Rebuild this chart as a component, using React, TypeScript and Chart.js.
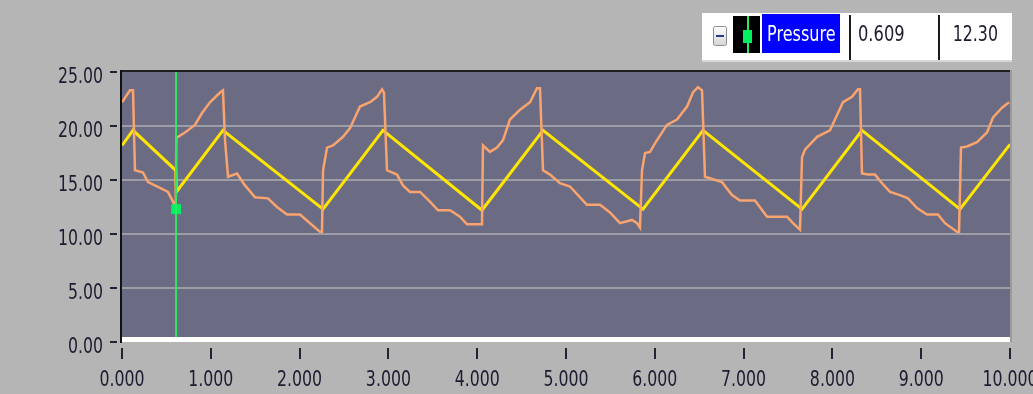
import React, { useEffect, useRef } from 'react';
import { Chart, registerables } from 'chart.js';

Chart.register(...registerables);

// ---- data ----
const ORANGE_TIME = [
  0.000, 0.090, 0.124, 0.146, 0.236, 0.293, 0.394, 0.518, 0.574, 0.605,
  0.612, 0.709, 0.822, 0.901, 0.991, 1.104, 1.137, 1.160, 1.194, 1.295,
  1.385, 1.498, 1.644, 1.745, 1.858, 2.005, 2.117, 2.230, 2.252, 2.264,
  2.309, 2.376, 2.489, 2.568, 2.680, 2.793, 2.872, 2.928, 2.950, 2.984,
  3.097, 3.164, 3.243, 3.356, 3.468, 3.559, 3.694, 3.806, 3.885, 4.054,
  4.065, 4.144, 4.223, 4.291, 4.369, 4.482, 4.595, 4.673, 4.707, 4.741,
  4.820, 4.932, 5.045, 5.158, 5.236, 5.383, 5.495, 5.608, 5.743, 5.800,
  5.833, 5.856, 5.890, 5.946, 6.002, 6.137, 6.250, 6.363, 6.430, 6.486,
  6.532, 6.565, 6.757, 6.869, 6.959, 7.128, 7.264, 7.489, 7.556, 7.635,
  7.658, 7.691, 7.827, 7.973, 8.029, 8.119, 8.221, 8.288, 8.311, 8.333,
  8.401, 8.480, 8.559, 8.649, 8.761, 8.851, 8.953, 9.065, 9.189, 9.268,
  9.403, 9.426, 9.448, 9.516, 9.628, 9.741, 9.809, 9.910, 9.990,
];
const ORANGE_PRESSURE = [
  22.2, 23.3, 23.3, 15.9, 15.7, 14.8, 14.4, 13.9, 13.0, 12.5,
  18.9, 19.4, 20.1, 21.2, 22.2, 23.1, 23.3, 18.7, 15.3, 15.6,
  14.5, 13.4, 13.3, 12.5, 11.8, 11.8, 11.0, 10.2, 10.2, 15.9,
  18.0, 18.2, 19.0, 19.8, 21.8, 22.2, 22.7, 23.4, 23.1, 15.9,
  15.5, 14.5, 13.9, 13.9, 13.0, 12.2, 12.2, 11.6, 10.9, 10.9,
  18.2, 17.6, 18.0, 18.7, 20.6, 21.5, 22.2, 23.5, 23.5, 15.9,
  15.5, 14.7, 14.4, 13.4, 12.7, 12.7, 12.0, 11.0, 11.3, 11.0,
  10.6, 15.9, 17.5, 17.6, 18.4, 20.1, 20.6, 21.8, 23.1, 23.6,
  23.3, 15.3, 14.8, 13.6, 13.1, 13.1, 11.6, 11.6, 11.0, 10.4,
  17.1, 17.8, 19.0, 19.6, 20.6, 22.2, 22.7, 23.4, 23.4, 15.6,
  15.5, 15.5, 14.7, 13.9, 13.6, 13.3, 12.4, 11.8, 11.8, 11.0,
  10.2, 10.2, 18.0, 18.1, 18.5, 19.4, 20.8, 21.7, 22.2,
];
const YELLOW_TIME = [0.000, 0.124, 0.605, 0.612, 1.137, 2.264, 2.939, 4.054, 4.741, 5.867, 6.543, 7.658, 8.333, 9.437, 10.000];
const YELLOW_PRESSURE = [18.2, 19.6, 15.9, 13.9, 19.6, 12.3, 19.6, 12.2, 19.6, 12.3, 19.6, 12.3, 19.6, 12.3, 18.3];
const X_TICK_LABELS = ['0.000', '1.000', '2.000', '3.000', '4.000', '5.000', '6.000', '7.000', '8.000', '9.000', '10.000'];
const Y_TICK_LABELS = ['0.00', '5.00', '10.00', '15.00', '20.00', '25.00'];
const CURSOR_TIME = 0.609;
const CURSOR_VALUE = 12.3;
const LEGEND_NAME = 'Pressure';
const LEGEND_X_TEXT = '0.609';
const LEGEND_Y_TEXT = '12.30';

const FONT = '"DejaVu Sans", Verdana, sans-serif';

function condensedText(
  ctx: CanvasRenderingContext2D,
  text: string,
  x: number,
  y: number,
  align: 'left' | 'right' | 'center',
  size: number,
  sx: number,
  color: string
) {
  ctx.save();
  ctx.font = `${size}px ${FONT}`;
  ctx.fillStyle = color;
  ctx.textBaseline = 'alphabetic';
  ctx.textAlign = 'left';
  const w = ctx.measureText(text).width * sx;
  let left = x;
  if (align === 'right') left = x - w;
  else if (align === 'center') left = x - w / 2;
  ctx.translate(left, y);
  ctx.scale(sx, 1);
  ctx.fillText(text, 0, 0);
  ctx.restore();
}

const framePlugin = {
  id: 'frame',
  beforeDraw(chart: any) {
    const { ctx, chartArea: a, width, height } = chart;
    ctx.save();
    ctx.fillStyle = '#b5b5b5';
    ctx.fillRect(0, 0, width, height);
    ctx.fillStyle = '#6b6b83';
    ctx.fillRect(a.left, a.top, a.right - a.left, a.bottom - a.top);
    ctx.restore();
  },
  afterDraw(chart: any) {
    const { ctx, chartArea: a } = chart;
    const xs = chart.scales.x;
    const ys = chart.scales.y;
    const textColor = '#1c1c30';
    ctx.save();
    // white base band
    const y0 = ys.getPixelForValue(0);
    ctx.fillStyle = '#ffffff';
    ctx.fillRect(a.left, y0 - 5, a.right - a.left, 5);
    // frame
    ctx.fillStyle = '#1e1e22';
    ctx.fillRect(a.left - 2, a.top - 2, a.right - a.left + 2, 2);
    ctx.fillStyle = '#111111';
    ctx.fillRect(a.left - 2, a.top - 2, 2, a.bottom - a.top + 3);
    ctx.fillStyle = '#9a9a9a';
    ctx.fillRect(a.right, a.top - 2, 2, a.bottom - a.top + 2);

    // y ticks
    ys.ticks.forEach((t: any, i: number) => {
      const py = ys.getPixelForValue(t.value);
      ctx.fillStyle = '#222230';
      ctx.fillRect(110, Math.round(py) - 1, 7, 2);
      condensedText(ctx, Y_TICK_LABELS[i] ?? String(t.value), 103, py + 11, 'right', 21, 0.75, textColor);
    });
    // x ticks
    xs.ticks.forEach((t: any, i: number) => {
      const px = xs.getPixelForValue(t.value);
      ctx.fillStyle = '#222230';
      ctx.fillRect(Math.round(px) - 1, 348, 2, 11);
      condensedText(ctx, X_TICK_LABELS[i] ?? String(t.value), px, 386, 'center', 21, 0.75, textColor);
    });

    // legend / cursor box
    ctx.fillStyle = '#ffffff';
    ctx.fillRect(702, 13, 310, 47);
    ctx.fillStyle = '#d6d6d6';
    ctx.fillRect(702, 60, 310, 2);
    // minus button
    const g = ctx.createLinearGradient(0, 26, 0, 46);
    g.addColorStop(0, '#ffffff');
    g.addColorStop(1, '#d4d4d4');
    ctx.fillStyle = g;
    ctx.strokeStyle = '#8c8c8c';
    ctx.lineWidth = 1;
    ctx.beginPath();
    ctx.roundRect(713.5, 26.5, 13, 19, 2);
    ctx.fill();
    ctx.stroke();
    ctx.fillStyle = '#2a3a8a';
    ctx.fillRect(716, 35, 8, 2);
    // plot swatch
    ctx.fillStyle = '#000000';
    ctx.fillRect(733, 16, 27, 37);
    ctx.fillStyle = '#2ee860';
    ctx.fillRect(747, 16, 2, 37);
    ctx.fillStyle = '#00f060';
    ctx.fillRect(743, 30, 9, 13);
    // name
    ctx.fillStyle = '#0000ff';
    ctx.fillRect(762, 14, 78, 39);
    condensedText(ctx, LEGEND_NAME, 767, 41, 'left', 22, 0.73, '#ffffff');
    // separators
    ctx.fillStyle = '#1a1a1a';
    ctx.fillRect(849, 15, 2, 45);
    ctx.fillRect(938, 15, 2, 45);
    condensedText(ctx, LEGEND_X_TEXT, 858, 41, 'left', 22, 0.74, textColor);
    condensedText(ctx, LEGEND_Y_TEXT, 998, 41, 'right', 22, 0.72, textColor);
    ctx.restore();
  },
};

export default function App() {
  const canvasRef = useRef<HTMLCanvasElement | null>(null);

  useEffect(() => {
    const canvas = canvasRef.current;
    if (!canvas) return;
    const orange = ORANGE_TIME.map((x, i) => ({ x, y: ORANGE_PRESSURE[i] }));
    const yellow = YELLOW_TIME.map((x, i) => ({ x, y: YELLOW_PRESSURE[i] }));
    const chart = new Chart(canvas, {
      type: 'line',
      data: {
        datasets: [
          {
            label: 'cursor',
            data: [
              { x: CURSOR_TIME, y: 0 },
              { x: CURSOR_TIME, y: 25 },
            ],
            borderColor: '#2ee860',
            borderWidth: 2,
            pointRadius: 0,
          },
          {
            label: 'marker',
            data: [{ x: CURSOR_TIME, y: CURSOR_VALUE }],
            showLine: false,
            pointStyle: 'rect',
            pointRadius: 7,
            backgroundColor: '#00f060',
            borderColor: '#00f060',
            borderWidth: 0,
          },
          {
            label: 'Pressure',
            data: orange,
            borderColor: '#f9a46e',
            borderWidth: 2.5,
            pointRadius: 0,
            tension: 0,
          },
          {
            label: 'Pressure fit',
            data: yellow,
            borderColor: '#ffe600',
            borderWidth: 3,
            pointRadius: 0,
            tension: 0,
          },
        ],
      },
      options: {
        responsive: false,
        animation: false,
        devicePixelRatio: 1,
        events: [],
        layout: { padding: { left: 0, top: 72, right: 23, bottom: 0 } },
        plugins: { legend: { display: false }, tooltip: { enabled: false } },
        scales: {
          x: {
            type: 'linear',
            min: 0,
            max: 10,
            ticks: { display: false, stepSize: 1 },
            grid: { display: false },
            border: { display: false },
            afterFit: (s: any) => {
              s.height = 52;
              s.paddingLeft = 0;
              s.paddingRight = 0;
              s.paddingTop = 0;
              s.paddingBottom = 0;
            },
          },
          y: {
            type: 'linear',
            min: 0,
            max: 25,
            ticks: { display: false, stepSize: 5 },
            grid: {
              drawTicks: false,
              lineWidth: 2,
              color: (c: any) => (c.tick && (c.tick.value === 0 || c.tick.value === 25) ? 'rgba(0,0,0,0)' : '#9d9da6'),
            },
            border: { display: false },
            afterFit: (s: any) => {
              s.width = 122;
              s.paddingLeft = 0;
              s.paddingRight = 0;
              s.paddingTop = 0;
              s.paddingBottom = 0;
            },
          },
        },
      },
      plugins: [framePlugin],
    } as any);
    return () => chart.destroy();
  }, []);

  return (
    <div style={{ position: 'fixed', left: 0, top: 0, width: 1033, height: 394, background: '#b5b5b5', overflow: 'hidden' }}>
      <canvas ref={canvasRef} width={1033} height={394} style={{ display: 'block', width: 1033, height: 394 }} />
    </div>
  );
}
